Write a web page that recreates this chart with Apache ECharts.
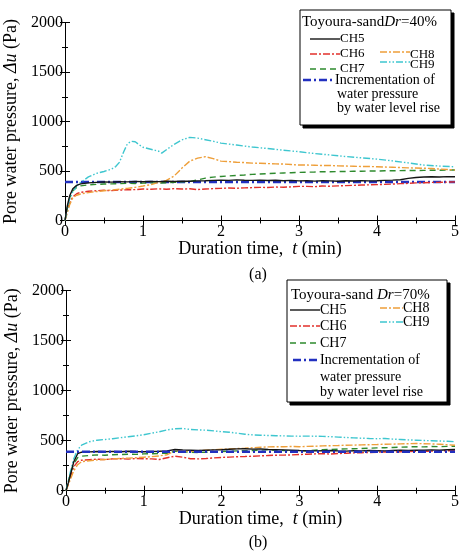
<!DOCTYPE html>
<html>
<head>
<meta charset="utf-8">
<script src="https://cdn.jsdelivr.net/npm/echarts@6/dist/echarts.min.js"></script>
<style>
  html, body { margin: 0; padding: 0; background: #fff; }
  #chart { width: 460px; height: 552px; }
</style>
</head>
<body>
<div id="chart"></div>
<script>
// Time samples (min) shared by most channels
const TIME = [0, 0.03, 0.06, 0.1, 0.15, 0.2, 0.3, 0.4, 0.5, 0.6, 0.7, 0.8, 0.9, 1.0,
  1.1, 1.2, 1.3, 1.4, 1.5, 1.6, 1.7, 1.8, 1.9, 2.0,
  2.1, 2.2, 2.3, 2.4, 2.5, 2.6, 2.7, 2.8, 2.9, 3.0,
  3.1, 3.2, 3.3, 3.4, 3.5, 3.6, 3.7, 3.8, 3.9, 4.0,
  4.1, 4.2, 4.3, 4.4, 4.5, 4.6, 4.7, 4.8, 4.9, 5.0];

// (a) Dr = 40 %  — pore water pressure (Pa)
const CH5_A = [0, 150, 250, 320, 355, 370, 380, 385, 390, 388, 392, 390, 395, 392,
  395, 393, 396, 394, 398, 396, 400, 402, 405, 408,
  405, 410, 407, 405, 408, 404, 406, 402, 405, 400,
  403, 398, 402, 400, 397, 401, 399, 403, 400, 402,
  405, 408, 412, 425, 435, 440, 442, 440, 443, 442];
const CH6_A = [0, 100, 180, 240, 270, 285, 295, 300, 305, 302, 308, 310, 312, 318,
  315, 320, 316, 322, 318, 320, 312, 318, 322, 325,
  328, 325, 330, 332, 335, 333, 338, 336, 340, 345,
  345, 342, 348, 346, 350, 352, 355, 358, 360, 362,
  365, 368, 372, 375, 380, 382, 385, 386, 388, 390];
const CH7_A = [0, 130, 230, 300, 335, 350, 360, 365, 368, 370, 372, 375, 374, 378,
  380, 378, 382, 385, 390, 395, 410, 428, 438, 445,
  450, 455, 460, 466, 470, 474, 477, 480, 483, 486,
  488, 490, 493, 492, 494, 495, 497, 498, 500, 500,
  502, 502, 504, 505, 505, 506, 508, 508, 510, 510];
const CH8_A = [0, 80, 160, 230, 255, 268, 282, 292, 300, 308, 316, 325, 335, 348,
  362, 385, 405, 450, 530, 600, 630, 645, 625, 600,
  595, 588, 585, 580, 578, 575, 572, 570, 565, 560,
  560, 558, 555, 556, 552, 550, 548, 546, 545, 543,
  540, 538, 535, 532, 530, 528, 525, 520, 515, 510];
// CH9 in (a) has a sharper shape, so it keeps its own time samples
const TIME_CH9_A = [0, 0.03, 0.06, 0.1, 0.15, 0.2, 0.3, 0.4, 0.5, 0.6, 0.65, 0.7, 0.75,
  0.8, 0.85, 0.9, 0.95, 1.0, 1.1, 1.2, 1.24, 1.3, 1.4, 1.5, 1.6, 1.7, 1.8, 1.9, 2.0,
  2.2, 2.4, 2.6, 2.8, 3.0, 3.2, 3.4, 3.6, 3.8, 4.0, 4.2, 4.4, 4.6, 4.8, 5.0];
const CH9_A = [0, 120, 220, 290, 350, 385, 440, 475, 495, 520, 545, 590, 690,
  775, 800, 795, 765, 740, 720, 700, 680, 715, 770, 815, 840, 832, 816, 800, 782,
  762, 742, 727, 710, 695, 676, 662, 646, 633, 620, 602, 582, 560, 550, 542];

// (b) Dr = 70 %
const CH5_B = [0, 80, 170, 290, 370, 385, 388, 392, 390, 393, 390, 395, 392, 390,
  393, 395, 398, 412, 408, 405, 402, 405, 408, 410,
  415, 418, 420, 416, 418, 412, 410, 408, 405, 402,
  400, 398, 400, 402, 398, 396, 400, 398, 402, 400,
  398, 402, 405, 403, 406, 404, 408, 405, 410, 412];
const CH6_B = [0, 70, 150, 240, 290, 305, 310, 315, 312, 318, 320, 316, 322, 320,
  318, 312, 330, 345, 335, 320, 318, 322, 328, 332,
  336, 340, 342, 345, 348, 352, 355, 356, 358, 362,
  365, 368, 370, 366, 372, 375, 378, 380, 382, 385,
  388, 386, 390, 392, 395, 393, 396, 398, 400, 402];
const CH7_B = [0, 90, 180, 270, 330, 345, 352, 358, 355, 360, 362, 365, 363, 368,
  370, 372, 375, 395, 390, 385, 382, 385, 388, 392,
  395, 398, 400, 402, 405, 408, 405, 402, 400, 398,
  400, 405, 410, 412, 415, 418, 420, 422, 425, 428,
  430, 432, 435, 438, 440, 438, 442, 440, 443, 445];
const CH8_B = [0, 60, 120, 200, 260, 290, 300, 308, 312, 318, 322, 326, 330, 335,
  340, 348, 360, 400, 398, 395, 400, 405, 410, 415,
  418, 422, 425, 430, 435, 438, 440, 440, 442, 440,
  443, 445, 448, 450, 452, 455, 456, 458, 460, 462,
  465, 466, 468, 470, 472, 470, 468, 465, 460, 455];
const CH9_B = [0, 100, 200, 320, 410, 455, 490, 505, 512, 520, 530, 540, 548, 560,
  575, 590, 608, 620, 622, 612, 608, 605, 598, 590,
  585, 575, 565, 558, 555, 552, 550, 548, 546, 545,
  546, 545, 543, 540, 536, 532, 528, 525, 522, 520,
  522, 516, 512, 508, 505, 502, 500, 497, 494, 490];

// Pressure increment from the water level rise (Pa)
const RISE_TIME = [0, 5];
const RISE_A = [390, 390];
const RISE_B = [390, 390];

const SERIF = 'Liberation Serif, Times New Roman, serif';

const STYLES = {
  CH5: { color: '#151515', type: 'solid' },
  CH6: { color: '#e2312b', type: [7, 2, 2, 2] },
  CH7: { color: '#2e8a2e', type: [6, 4] },
  CH8: { color: '#ee9f3a', type: [7, 2, 2, 2] },
  CH9: { color: '#3ec6cf', type: [7, 2, 1.5, 2, 1.5, 2] },
  RISE: { color: '#2230c0', type: [8, 3, 2, 3] }
};

function zip(t, v) { return t.map((x, i) => [x, v[i]]); }

function makeLine(name, t, v, xi, yi, width) {
  const s = STYLES[name];
  return {
    type: 'line', name: name, xAxisIndex: xi, yAxisIndex: yi,
    data: zip(t, v), showSymbol: false, symbol: 'none',
    lineStyle: { color: s.color, type: s.type, width: width || 1.4 },
    animation: false, silent: true
  };
}

function xAxes(gridIndex) {
  const base = {
    type: 'value', gridIndex: gridIndex, min: 0, max: 5, interval: 1,
    axisLine: { show: true, lineStyle: { color: '#000', width: 1 } },
    axisTick: { show: true, inside: true, length: 5, lineStyle: { color: '#000' } },
    minorTick: { show: true, splitNumber: 2, length: 3, lineStyle: { color: '#000' } },
    splitLine: { show: false }
  };
  const bottom = Object.assign({}, base, {
    position: 'bottom',
    axisLabel: { show: true, color: '#000', fontFamily: SERIF, fontSize: 16, margin: 3,
      formatter: v => String(v) },
    name: 'Duration time,  {i|t} (min)', nameLocation: 'middle', nameGap: 16,
    nameTextStyle: {
      color: '#000', fontFamily: SERIF, fontSize: 18,
      rich: { i: { fontStyle: 'italic', fontFamily: SERIF, fontSize: 18, color: '#000' } }
    }
  });
  const top = Object.assign({}, base, { position: 'top', axisLabel: { show: false } });
  return [bottom, top];
}

function yAxes(gridIndex) {
  const base = {
    type: 'value', gridIndex: gridIndex, min: 0, max: 2000, interval: 500,
    axisLine: { show: true, lineStyle: { color: '#000', width: 1 } },
    axisTick: { show: true, inside: true, length: 5, lineStyle: { color: '#000' } },
    minorTick: { show: true, splitNumber: 2, length: 3, lineStyle: { color: '#000' } },
    splitLine: { show: false }
  };
  const left = Object.assign({}, base, {
    position: 'left',
    axisLabel: { show: true, color: '#000', fontFamily: SERIF, fontSize: 16, margin: 2,
      formatter: v => String(v) },
    name: 'Pore water pressure, {i|Δu} (Pa)', nameLocation: 'middle', nameGap: 38,
    nameTextStyle: {
      color: '#000', fontFamily: SERIF, fontSize: 18,
      rich: { i: { fontStyle: 'italic', fontFamily: SERIF, fontSize: 18, color: '#000' } }
    }
  });
  const right = Object.assign({}, base, { position: 'right', axisLabel: { show: false } });
  return [left, right];
}

// Legend panel drawn as graphic elements
function legendPanel(box, title, rows) {
  const els = [];
  els.push({ type: 'rect', z: 100, shape: { x: box.x + 3, y: box.y + 3, width: box.w, height: box.h },
    style: { fill: '#000', stroke: '#000' } });
  els.push({ type: 'rect', z: 101, shape: { x: box.x, y: box.y, width: box.w, height: box.h },
    style: { fill: '#fff', stroke: '#000', lineWidth: 1 } });
  els.push({ type: 'text', z: 102, x: title.x, y: title.y,
    style: { text: title.text, fontFamily: SERIF, fontSize: 15, fill: '#000', verticalAlign: 'middle',
      rich: { i: { fontStyle: 'italic', fontFamily: SERIF, fontSize: 15, fill: '#000' } } } });
  rows.forEach(r => {
    if (r.line) {
      const s = STYLES[r.line];
      els.push({ type: 'line', z: 102, shape: { x1: r.x1, y1: r.ly, x2: r.x2, y2: r.ly },
        style: { stroke: s.color, lineWidth: r.w || 1.4, lineDash: s.type === 'solid' ? null : s.type } });
    }
    els.push({ type: 'text', z: 102, x: r.tx, y: r.ty,
      style: { text: r.text, fontFamily: SERIF, fontSize: r.fs || 14, fill: '#000', verticalAlign: 'middle' } });
  });
  return els;
}

const legendA = legendPanel({ x: 300, y: 10, w: 151, h: 115 },
  { x: 302, y: 22, text: 'Toyoura-sand{i|Dr}=40%' },
  [
    { line: 'CH5', x1: 310, x2: 340, ly: 39, tx: 340, ty: 39, text: 'CH5', fs: 13 },
    { line: 'CH6', x1: 310, x2: 340, ly: 54, tx: 340, ty: 54, text: 'CH6', fs: 13 },
    { line: 'CH7', x1: 310, x2: 340, ly: 69, tx: 340, ty: 69, text: 'CH7', fs: 13 },
    { line: 'CH8', x1: 380, x2: 410, ly: 52, tx: 410, ty: 55, text: 'CH8', fs: 13 },
    { line: 'CH9', x1: 380, x2: 410, ly: 62, tx: 410, ty: 65, text: 'CH9', fs: 13 },
    { line: 'RISE', x1: 303, x2: 335, ly: 80, w: 2.5, tx: 335, ty: 80, text: 'Incrementation of' },
    { tx: 337, ty: 94, text: 'water pressure' },
    { tx: 337, ty: 108, text: 'by water level rise' }
  ]);

const legendB = legendPanel({ x: 287, y: 280, w: 160, h: 122 },
  { x: 291, y: 295, text: 'Toyoura-sand {i|Dr}=70%' },
  [
    { line: 'CH5', x1: 290, x2: 320, ly: 310, tx: 320, ty: 310, text: 'CH5' },
    { line: 'CH6', x1: 290, x2: 320, ly: 326, tx: 320, ty: 326, text: 'CH6' },
    { line: 'CH7', x1: 290, x2: 320, ly: 343, tx: 320, ty: 343, text: 'CH7' },
    { line: 'CH8', x1: 380, x2: 403, ly: 308, tx: 403, ty: 308, text: 'CH8' },
    { line: 'CH9', x1: 380, x2: 403, ly: 322, tx: 403, ty: 322, text: 'CH9' },
    { line: 'RISE', x1: 293, x2: 320, ly: 360, w: 2.5, tx: 320, ty: 360, text: 'Incrementation of' },
    { tx: 320, ty: 377, text: 'water pressure' },
    { tx: 320, ty: 392, text: 'by water level rise' }
  ]);

const panelLabels = [
  { type: 'text', z: 102, x: 258, y: 275,
    style: { text: '(a)', fontFamily: SERIF, fontSize: 16, fill: '#000', align: 'center', verticalAlign: 'middle' } },
  { type: 'text', z: 102, x: 258, y: 543,
    style: { text: '(b)', fontFamily: SERIF, fontSize: 16, fill: '#000', align: 'center', verticalAlign: 'middle' } }
];

const xa = xAxes(0), xb = xAxes(1);
const ya = yAxes(0), yb = yAxes(1);

const option = {
  animation: false,
  backgroundColor: '#fff',
  grid: [
    { left: 65, top: 22.5, width: 390, height: 198, containLabel: false, outerBoundsMode: 'none' },
    { left: 66, top: 290.7, width: 389, height: 200, containLabel: false, outerBoundsMode: 'none' }
  ],
  xAxis: [xa[0], xa[1], xb[0], xb[1]],
  yAxis: [ya[0], ya[1], yb[0], yb[1]],
  series: [
    makeLine('RISE', RISE_TIME, RISE_A, 0, 0, 2.5),
    makeLine('CH6', TIME, CH6_A, 0, 0),
    makeLine('CH7', TIME, CH7_A, 0, 0),
    makeLine('CH8', TIME, CH8_A, 0, 0),
    makeLine('CH9', TIME_CH9_A, CH9_A, 0, 0),
    makeLine('CH5', TIME, CH5_A, 0, 0),
    makeLine('CH6', TIME, CH6_B, 2, 2),
    makeLine('CH7', TIME, CH7_B, 2, 2),
    makeLine('CH8', TIME, CH8_B, 2, 2),
    makeLine('CH9', TIME, CH9_B, 2, 2),
    makeLine('CH5', TIME, CH5_B, 2, 2),
    makeLine('RISE', RISE_TIME, RISE_B, 2, 2, 2.5)
  ],
  graphic: { elements: legendA.concat(legendB, panelLabels) }
};

const chart = echarts.init(document.getElementById('chart'), null, { renderer: 'canvas' });
chart.setOption(option);
</script>
</body>
</html>
